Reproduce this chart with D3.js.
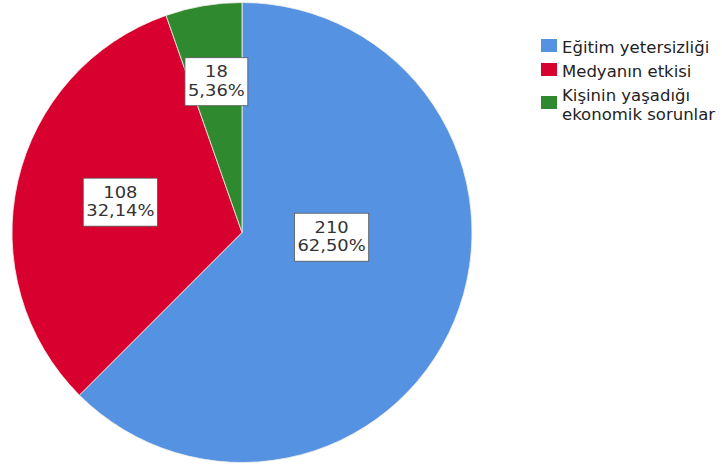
<!DOCTYPE html>
<html>
<head>
<meta charset="utf-8">
<script src="https://cdn.jsdelivr.net/npm/d3@7"></script>
<style>
  html, body { margin: 0; padding: 0; background: #fff; }
  svg { display: block; font-family: "DejaVu Sans", sans-serif; }
</style>
</head>
<body>
<svg id="chart" width="722" height="468"></svg>
<script>
// Categories, counts and percentage labels
const categories = ["Eğitim yetersizliği", "Medyanın etkisi", "Kişinin yaşadığı ekonomik sorunlar"];
const legendLines = [["Eğitim yetersizliği"], ["Medyanın etkisi"], ["Kişinin yaşadığı", "ekonomik sorunlar"]];
const counts = [210, 108, 18];
const percentLabels = ["62,50%", "32,14%", "5,36%"];
const colors = ["#5592e2", "#d8002f", "#2f8a2f"];

const svg = d3.select("#chart");
const cx = 242, cy = 232.5, radius = 230;

const pie = d3.pie().sort(null).value(d => d)(counts);
const arc = d3.arc().innerRadius(0).outerRadius(radius);

const g = svg.append("g").attr("transform", `translate(${cx},${cy})`);

g.selectAll("path.slice")
  .data(pie)
  .join("path")
  .attr("class", "slice")
  .attr("d", arc)
  .attr("fill", (d, i) => colors[i])
  .attr("stroke", "#f4f0e8")
  .attr("stroke-width", 0.8);

// Label anchor: fraction of the radius and angular shift from the slice middle
const labelPlacement = [
  { r: 0.39, shift: -0.34 },
  { r: 0.545, shift: 0.02 },
  { r: 0.665, shift: 0.0 }
];

pie.forEach((d, i) => {
  const p = labelPlacement[i];
  const a = (d.startAngle + d.endAngle) / 2 + p.shift;
  const x = Math.sin(a) * radius * p.r;
  const y = -Math.cos(a) * radius * p.r;
  const lg = g.append("g").attr("transform", `translate(${x},${y})`);
  const rect = lg.append("rect");
  const inner = lg.append("g").attr("transform", "scale(1.12,1)");
  const lines = [String(counts[i]), percentLabels[i]];
  const texts = lines.map((s, j) => inner.append("text")
    .attr("text-anchor", "middle")
    .attr("x", 0).attr("y", j === 0 ? -4.5 : 14)
    .attr("font-size", 16)
    .attr("fill", "#333")
    .text(s));
  const w = d3.max(texts, t => t.node().getBBox().width) * 1.12;
  rect.attr("x", -w / 2 - 3).attr("y", -24)
    .attr("width", w + 6).attr("height", 48)
    .attr("fill", "#fff").attr("stroke", "#555").attr("stroke-width", 0.8);
});

// Legend
const legend = svg.append("g").attr("transform", "translate(541,39)");
const rowY = [0, 24, 48];
legendLines.forEach((lines, i) => {
  const row = legend.append("g").attr("transform", `translate(0,${rowY[i]})`);
  const swatchY = lines.length > 1 ? 9 : 0;
  row.append("rect").attr("x", 0).attr("y", swatchY).attr("width", 16).attr("height", 13)
    .attr("fill", colors[i]);
  lines.forEach((ln, j) => {
    row.append("text").attr("font-size", 16.5).attr("fill", "#222")
      .attr("x", 21).attr("y", 14 + j * 19).text(ln);
  });
});
</script>
</body>
</html>
